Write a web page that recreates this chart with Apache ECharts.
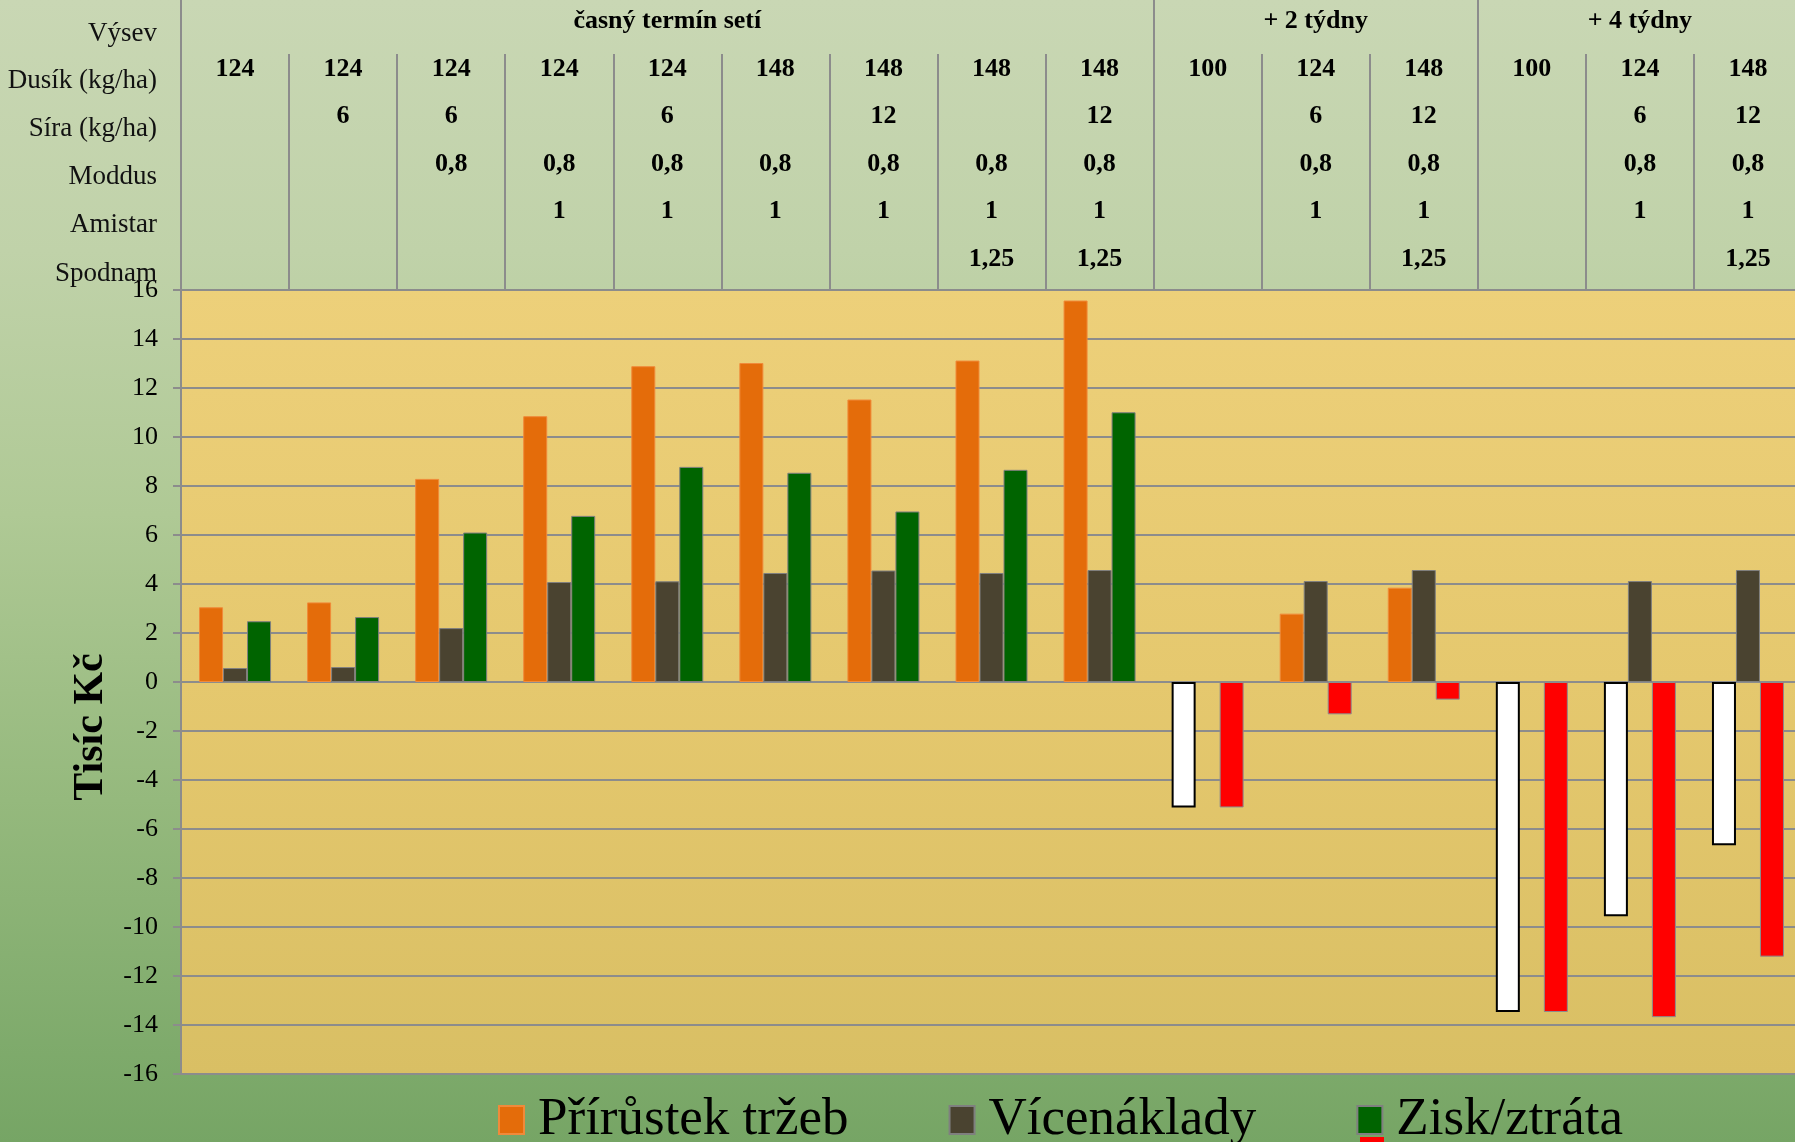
<!DOCTYPE html>
<html>
<head>
<meta charset="utf-8">
<script src="https://cdn.jsdelivr.net/npm/echarts@6/dist/echarts.min.js"></script>
<style>
html,body{margin:0;padding:0;width:1795px;height:1142px;overflow:hidden;}
#c{width:1795px;height:1142px;background:linear-gradient(180deg,#C9D7B4 0%,#C0D2A9 22%,#AFC995 45%,#95B97D 70%,#76A565 100%);}
</style>
</head>
<body>
<div id="c"></div>
<script>
// ---- data ----
const categories = ['V1','V2','V3','V4','V5','V6','V7','V8','V9','V10','V11','V12','V13','V14','V15'];
const rowLabels = ['Výsev','Dusík (kg/ha)','Síra (kg/ha)','Moddus','Amistar','Spodnam'];
const vysev   = ['','','','','časný termín setí','','','','','','+ 2 týdny','','','+ 4 týdny',''];
const dusik   = ['124','124','124','124','124','148','148','148','148','100','124','148','100','124','148'];
const sira    = ['','6','6','','6','','12','','12','','6','12','','6','12'];
const moddus  = ['','','0,8','0,8','0,8','0,8','0,8','0,8','0,8','','0,8','0,8','','0,8','0,8'];
const amistar = ['','','','1','1','1','1','1','1','','1','1','','1','1'];
const spodnam = ['','','','','','','','1,25','1,25','','','1,25','','','1,25'];
const groupStarts = [0, 9, 12];

const seriesNames = ['Přírůstek tržeb','Vícenáklady','Zisk/ztráta'];
const prirustek   = [3.05, 3.25, 8.29, 10.85, 12.89, 13.02, 11.53, 13.12, 15.57, -5.12, 2.79, 3.85, -13.47, -9.56, -6.66];
const vicenaklady = [0.57, 0.61, 2.20, 4.08, 4.11, 4.45, 4.55, 4.45, 4.57, null, 4.12, 4.57, null, 4.12, 4.57];
const zisk        = [2.48, 2.65, 6.10, 6.78, 8.78, 8.54, 6.96, 8.66, 11.01, -5.12, -1.32, -0.72, -13.47, -13.68, -11.21];

const yMin = -16, yMax = 16, yStep = 2;
const yName = 'Tisíc Kč';

// ---- styles ----
const FONT = '"Liberation Serif","Times New Roman",serif';
const GRID_TOP = 290;
const headerRows = [vysev, dusik, sira, moddus, amistar, spodnam];
const headerCenters = [21, 69, 116, 164, 211, 259];
const rowLabelCenters = [34, 81, 129, 177, 225, 274];

const ORANGE = '#E46C0A', DARK = '#4A4330', GREEN = '#006400', RED = '#FF0000';

function styled(values, pos, neg) {
  return values.map(v => (v === null ? '-' : { value: v, itemStyle: v < 0 ? neg : pos }));
}

const xAxes = [{
  type: 'category', data: categories, position: 'bottom', gridIndex: 0,
  axisLine: { show: false }, axisTick: { show: false }, axisLabel: { show: false }, splitLine: { show: false }
}];
headerRows.forEach((row, k) => {
  xAxes.push({
    type: 'category', data: categories, position: 'top', gridIndex: 0,
    axisLine: { show: false }, axisTick: { show: false }, splitLine: { show: false },
    axisLabel: {
      interval: 0, margin: GRID_TOP - headerCenters[k], verticalAlign: 'middle',
      formatter: (v, i) => row[i], fontFamily: FONT, fontWeight: 'bold', fontSize: 26, color: '#000'
    }
  });
});
// short separators between columns
xAxes.push({
  type: 'category', data: categories, position: 'top', gridIndex: 0,
  axisLine: { show: false }, axisLabel: { show: false }, splitLine: { show: false },
  axisTick: { show: true, length: 236, lineStyle: { color: '#8C8C8C', width: 2 } }
});
// long separators between groups
xAxes.push({
  type: 'category', data: categories, position: 'top', gridIndex: 0,
  axisLine: { show: false }, axisLabel: { show: false }, splitLine: { show: false },
  axisTick: { show: true, length: 290, interval: (i) => groupStarts.indexOf(i) >= 0, lineStyle: { color: '#8C8C8C', width: 2 } }
});

const graphics = rowLabels.map((t, k) => ({
  type: 'text', x: 157, y: rowLabelCenters[k], z: 10,
  style: { text: t, x: 0, y: 0, align: 'right', verticalAlign: 'middle', font: '27px ' + FONT, fill: '#111' }
}));
graphics.push({ type: 'rect', shape: { x: 1360, y: 1137, width: 24, height: 28 }, style: { fill: RED } });

const chart = echarts.init(document.getElementById('c'), null, { renderer: 'canvas' });
chart.setOption({
  backgroundColor: 'transparent',
  animation: false,
  grid: {
    left: 181, top: GRID_TOP, width: 1621, height: 784, show: true,
    outerBoundsMode: 'none', containLabel: false,
    borderColor: '#8C8C8C', borderWidth: 2,
    backgroundColor: { type: 'linear', x: 0, y: 0, x2: 0, y2: 1,
      colorStops: [{ offset: 0, color: '#EDD07A' }, { offset: 0.5, color: '#E5C86E' }, { offset: 1, color: '#D9BF64' }] }
  },
  xAxis: xAxes,
  yAxis: {
    type: 'value', min: yMin, max: yMax, interval: yStep,
    name: yName, nameLocation: 'middle', nameGap: 69,
    nameTextStyle: { fontFamily: FONT, fontWeight: 'bold', fontSize: 42, color: '#000', padding: [0, 90, 0, 0] },
    axisLine: { show: true, lineStyle: { color: '#8C8C8C', width: 2 } },
    axisTick: { show: true, length: 8, lineStyle: { color: '#8C8C8C', width: 2 } },
    axisLabel: { margin: 23, fontFamily: FONT, fontSize: 26, color: '#000' },
    splitLine: { show: true, lineStyle: { color: '#8C8C8C', width: 2 } }
  },
  legend: {
    data: seriesNames, left: 493, top: 1088, itemWidth: 25, itemHeight: 28, itemGap: 100, icon: 'rect',
    textStyle: { fontFamily: FONT, fontSize: 53, color: '#000', lineHeight: 54, padding: [0, 0, 0, 9] }
  },
  graphic: graphics,
  series: [
    { name: seriesNames[0], type: 'bar', xAxisIndex: 0, barWidth: 24, barGap: '0%',
      itemStyle: { color: ORANGE, borderColor: '#F08A3A', borderWidth: 1 },
      data: styled(prirustek, { color: ORANGE, borderColor: '#F08A3A', borderWidth: 1 }, { color: '#FFFFFF', borderColor: '#000000', borderWidth: 2 }) },
    { name: seriesNames[1], type: 'bar', xAxisIndex: 0, barWidth: 24, barGap: '0%',
      itemStyle: { color: DARK, borderColor: '#7F7F7F', borderWidth: 1 },
      data: styled(vicenaklady, { color: DARK, borderColor: '#7F7F7F', borderWidth: 1 }, { color: DARK }) },
    { name: seriesNames[2], type: 'bar', xAxisIndex: 0, barWidth: 24, barGap: '0%',
      itemStyle: { color: GREEN, borderColor: '#7F7F7F', borderWidth: 1 },
      data: styled(zisk, { color: GREEN, borderColor: '#7F7F7F', borderWidth: 1 }, { color: RED, borderColor: '#8C8C8C', borderWidth: 1 }) }
  ]
});
</script>
</body>
</html>
